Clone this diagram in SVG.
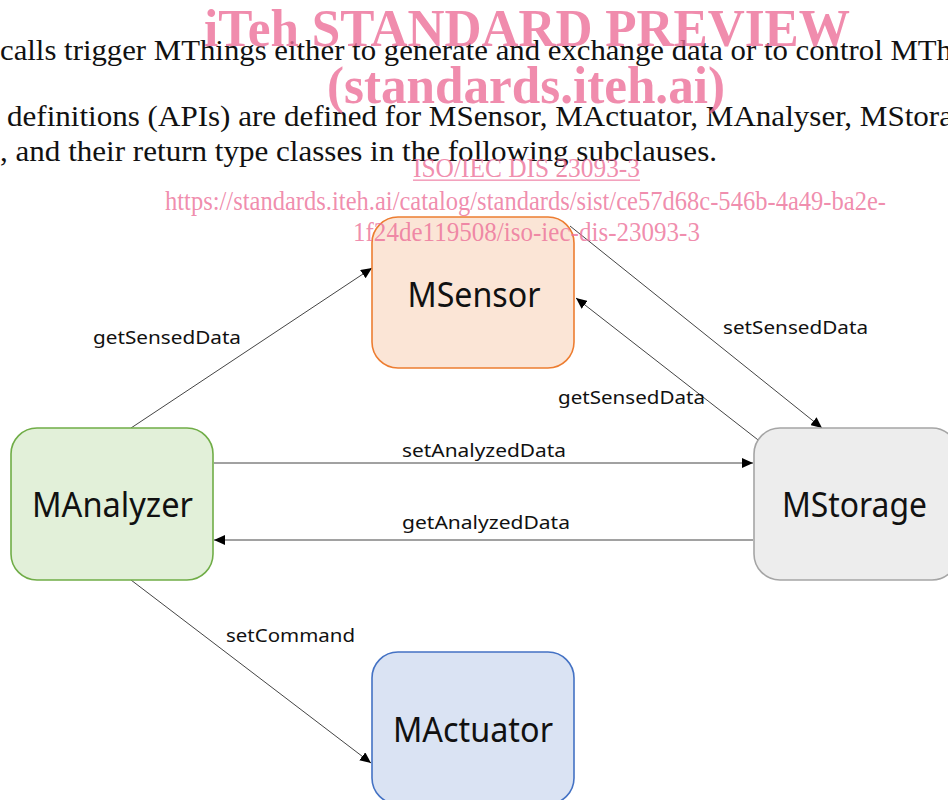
<svg xmlns="http://www.w3.org/2000/svg" width="948" height="800" viewBox="0 0 948 800">
<style>
.body{font-family:"Liberation Serif","DejaVu Serif",serif;font-size:30px;fill:#111}
.wm{font-family:"Liberation Serif","DejaVu Serif",serif;fill:#ec6f98;fill-opacity:0.8}
.wmb{font-weight:bold;font-size:52px}
.wms{font-size:28px}
.node rect{stroke-width:1.6}
.node text{font-family:"Noto Sans","Open Sans","DejaVu Sans",sans-serif;font-size:34px;fill:#111;text-anchor:middle}
.lbl{font-family:"Noto Sans","Open Sans","DejaVu Sans",sans-serif;font-size:18.5px;fill:#111}
.conn line{stroke:#444;stroke-width:1;fill:none;marker-end:url(#arr)}
</style>
<defs>
<marker id="arr" markerUnits="userSpaceOnUse" markerWidth="12" markerHeight="10" refX="11" refY="5" orient="auto">
<path d="M0,0 L11,5 L0,10 Z" fill="#000"/>
</marker>
</defs>
<rect width="948" height="800" fill="#fff"/>
<g id="bodytext">
<text class="body" x="0" y="60" textLength="952" lengthAdjust="spacingAndGlyphs">calls trigger MThings either to generate and exchange data or to control MTh</text>
<text class="body" x="7" y="126" textLength="946" lengthAdjust="spacingAndGlyphs">definitions (APIs) are defined for MSensor, MActuator, MAnalyser, MStora</text>
<text class="body" x="0" y="161" textLength="717" lengthAdjust="spacingAndGlyphs">, and their return type classes in the following subclauses.</text>
</g>
<g class="conn" id="connectors">
<line x1="131" y1="428" x2="372" y2="268"/>
<line x1="570" y1="226" x2="822" y2="428"/>
<line x1="762" y1="443" x2="576" y2="298"/>
<line x1="214" y1="463" x2="753" y2="463"/>
<line x1="753" y1="540" x2="214" y2="540"/>
<line x1="131" y1="580" x2="371" y2="763"/>
<text class="lbl" x="93" y="344" textLength="148" lengthAdjust="spacingAndGlyphs">getSensedData</text>
<text class="lbl" x="723" y="334" textLength="145" lengthAdjust="spacingAndGlyphs">setSensedData</text>
<text class="lbl" x="558" y="404" textLength="147" lengthAdjust="spacingAndGlyphs">getSensedData</text>
<text class="lbl" x="402" y="457" textLength="164" lengthAdjust="spacingAndGlyphs">setAnalyzedData</text>
<text class="lbl" x="402" y="529" textLength="168" lengthAdjust="spacingAndGlyphs">getAnalyzedData</text>
<text class="lbl" x="226" y="642" textLength="129" lengthAdjust="spacingAndGlyphs">setCommand</text>
</g>
<g class="node" id="MSensor">
<rect x="372" y="217" width="202" height="151" rx="26" fill="#fbe5d6" stroke="#ed7d31"/>
<text x="474" y="307" textLength="133" lengthAdjust="spacingAndGlyphs">MSensor</text>
</g>
<g class="node" id="MAnalyzer">
<rect x="11" y="428" width="202" height="152" rx="26" fill="#e2f0d9" stroke="#70ad47"/>
<text x="112.5" y="517" textLength="161" lengthAdjust="spacingAndGlyphs">MAnalyzer</text>
</g>
<g class="node" id="MStorage">
<rect x="754" y="428" width="204" height="152" rx="26" fill="#ededed" stroke="#a5a5a5"/>
<text x="854.5" y="517" textLength="145" lengthAdjust="spacingAndGlyphs">MStorage</text>
</g>
<g class="node" id="MActuator">
<rect x="372" y="652" width="202" height="152" rx="26" fill="#dae3f3" stroke="#4472c4"/>
<text x="473" y="742" textLength="160" lengthAdjust="spacingAndGlyphs">MActuator</text>
</g>
<g id="watermark">
<text class="wm wmb" x="204" y="46" textLength="646" lengthAdjust="spacingAndGlyphs">iTeh STANDARD PREVIEW</text>
<text class="wm wmb" x="327" y="103" textLength="398" lengthAdjust="spacingAndGlyphs">(standards.iteh.ai)</text>
<text class="wm wms" x="413" y="177" textLength="227" lengthAdjust="spacingAndGlyphs">ISO/IEC DIS 23093-3</text>
<rect x="413" y="179.5" width="227" height="1.3" fill="#ec6f98" fill-opacity="0.8"/>
<text class="wm wms" x="165" y="210" textLength="721" lengthAdjust="spacingAndGlyphs">https://standards.iteh.ai/catalog/standards/sist/ce57d68c-546b-4a49-ba2e-</text>
<text class="wm wms" x="353" y="241" textLength="347" lengthAdjust="spacingAndGlyphs">1f24de119508/iso-iec-dis-23093-3</text>
</g>
</svg>
